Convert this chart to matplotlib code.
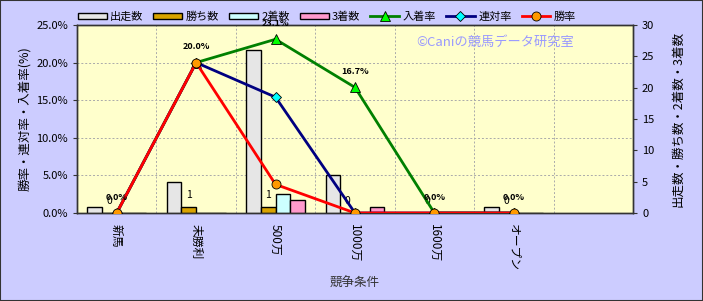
import matplotlib
matplotlib.use("Agg")
import matplotlib.pyplot as plt
import numpy as np
from matplotlib.ticker import FuncFormatter, MultipleLocator

plt.rcParams['font.family'] = ['Noto Sans CJK JP', 'DejaVu Sans']

categories = ['新馬', '未勝利', '500万', '1000万', '1600万', 'オープン']
starts = [1, 5, 26, 6, 0, 1]
wins = [0, 1, 1, 0, 0, 0]
seconds = [0, 0, 3, 0, 0, 0]
thirds = [0, 0, 2, 1, 0, 0]
place_rate = [0.0, 20.0, 23.1, 16.7, 0.0, 0.0]
quinella_rate = [0.0, 20.0, 15.4, 0.0, 0.0, 0.0]
win_rate = [0.0, 20.0, 3.8, 0.0, 0.0, 0.0]

fig = plt.figure(figsize=(7.03, 3.01), dpi=100, facecolor='#CCCCFF')
fig.patches.append(plt.Rectangle((0, 0), 1, 1, transform=fig.transFigure,
                                 fill=False, edgecolor='#333333', linewidth=1.5))
ax = fig.add_axes([0.1095, 0.2924, 0.7909, 0.6246])
axb = ax.twinx()
ax.set_zorder(2)
ax.patch.set_visible(False)
axb.patch.set_visible(True)
axb.set_facecolor('#FFFFCC')

x = np.arange(len(categories))
w = 0.185
bar_series = [(starts, '出走数', '#E6E6E6'), (wins, '勝ち数', '#D9A300'),
              (seconds, '2着数', '#CCFFFF'), (thirds, '3着数', '#FF99CC')]
handles = []
for i, (vals, lab, col) in enumerate(bar_series):
    b = axb.bar(x + (i - 1.5) * w, vals, width=w, color=col, edgecolor='black',
                linewidth=1.0, label=lab, zorder=3)
    handles.append(b)

for xi, v in zip(x, wins):
    axb.annotate(str(v), (xi - 0.5 * w, v), xytext=(0, 5), textcoords='offset points',
                 ha='center', va='bottom', fontsize=7.5)

# gridlines
for gy in [6, 12, 18, 24]:
    axb.axhline(gy, color='#AAAAAA', linestyle=(0, (2, 2)), linewidth=0.7, zorder=0)
for gx in np.arange(0.5, 6.5, 1.0):
    axb.axvline(gx, color='#AAAAAA', linestyle=(0, (2, 2)), linewidth=0.7, zorder=0)

l1, = ax.plot(x, place_rate, color='#008000', linewidth=2, marker='^', markersize=7,
              markerfacecolor='#00FF00', markeredgecolor='black', markeredgewidth=0.6,
              label='入着率', zorder=3)
l2, = ax.plot(x, quinella_rate, color='#000080', linewidth=2, marker='D', markersize=5,
              markerfacecolor='#00FFFF', markeredgecolor='black', markeredgewidth=0.6,
              label='連対率', zorder=4)
l3, = ax.plot(x, win_rate, color='#FF0000', linewidth=2, marker='o', markersize=6.5,
              markerfacecolor='#FF9900', markeredgecolor='black', markeredgewidth=0.6,
              label='勝率', zorder=5)
for xi, v in zip(x, place_rate):
    ax.annotate(f'{v:.1f}%', (xi, v), xytext=(0, 8), textcoords='offset points',
                ha='center', va='bottom', fontsize=6.5, fontweight='bold', zorder=6)

ax.set_xlim(-0.5, 6.5)
ax.set_ylim(0, 25)
axb.set_ylim(0, 30)
ax.yaxis.set_major_locator(MultipleLocator(5))
ax.yaxis.set_major_formatter(FuncFormatter(lambda v, p: f'{v:.1f}%'))
axb.yaxis.set_major_locator(MultipleLocator(5))
ax.set_xticks(x)
ax.set_xticklabels(categories, rotation=270, fontsize=8.5)
ax.tick_params(axis='x', length=0, pad=8)
ax.tick_params(axis='y', labelsize=8, direction='out', length=3, color='#333333')
axb.tick_params(axis='y', labelsize=8, direction='out', length=3, color='#333333')

for a in (ax, axb):
    for s in a.spines.values():
        s.set_color('#333333')
        s.set_linewidth(1.0)

ax.set_ylabel('勝率・連対率・入着率(%)', fontsize=9, labelpad=4)
axb.set_ylabel('出走数・勝ち数・2着数・3着数', fontsize=9, rotation=90, labelpad=12)
ax.set_xlabel('競争条件', fontsize=9, color='#333333', labelpad=4)

ax.text(0.752, 0.905, '©Caniの競馬データ研究室', transform=ax.transAxes,
        ha='center', va='center', fontsize=9.5, color='#9999FF', zorder=1)

fig.legend(handles + [l1, l2, l3],
           ['出走数', '勝ち数', '2着数', '3着数', '入着率', '連対率', '勝率'],
           loc='center', bbox_to_anchor=(0.465, 0.945), ncol=7, frameon=False,
           fontsize=8, handlelength=2.6, handleheight=0.5, columnspacing=0.9,
           handletextpad=0.3)

fig.savefig('out.png', dpi=100, facecolor=fig.get_facecolor())
